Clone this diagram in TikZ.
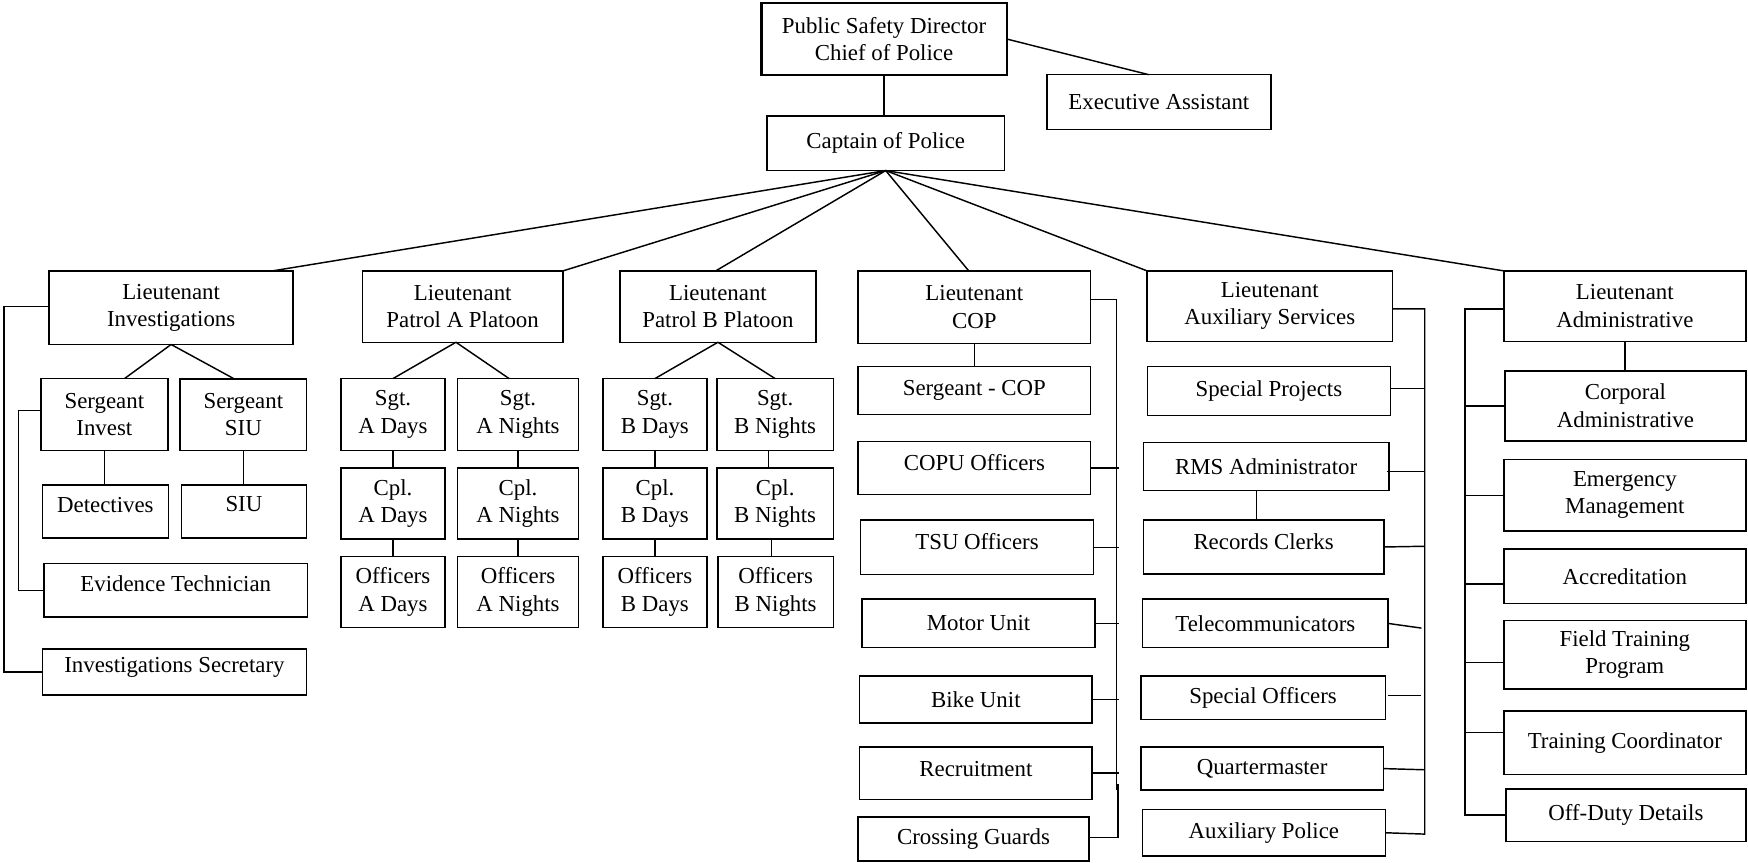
\documentclass[tikz,border=0pt]{standalone}
\usepackage{fontspec}
\setmainfont{Liberation Serif}
\usetikzlibrary{calc}
\tikzset{
  box/.style={draw, line width=1.3pt, inner sep=0pt, outer sep=0pt, align=center,
    font=\fontsize{20.5}{24.5}\selectfont},
  ln/.style={line width=1.3pt},
  raise/.style={text depth=#1}
}
\newcommand\bx[6][]{\node[box,#1,minimum width={#5-#3},minimum height={#6-#4}] (#2) at ({(#3+#5)/2},{(#4+#6)/2})}
\begin{document}
\begin{tikzpicture}[x=1pt,y=-1pt]
\useasboundingbox (0,0) rectangle (1568,774);
% top
\bx[line width=2pt]{psd}{683}{3}{903}{67}{Public Safety Director\\Chief of Police};
\bx{exec}{939}{67}{1140}{116}{Executive Assistant};
\bx{cap}{688}{104}{901}{153}{Captain of Police};
\draw[ln] (psd.south) -- (psd.south |- cap.north);
\draw[ln] (psd.east) -- ([xshift=-9pt]exec.north);
% lieutenants
\bx{inv}{44}{243}{263}{309}{Lieutenant\\Investigations};
\bx{pa}{325}{243}{505}{307}{Lieutenant\\Patrol A Platoon};
\bx{pb}{556}{243}{732}{307}{Lieutenant\\Patrol B Platoon};
\bx{cop}{769.6}{243}{978.4}{308}{Lieutenant\\COP};
\bx{aux}{1029}{243}{1249}{306.3}{Lieutenant\\Auxiliary Services};
\bx{adm}{1349}{243}{1566}{306.3}{Lieutenant\\Administrative};
\draw[ln] (cap.south) -- ($(inv.north west)!0.915!(inv.north east)$);
\draw[ln] (cap.south) -- (pa.north east);
\draw[ln] (cap.south) -- ([xshift=-2pt]pb.north);
\draw[ln] (cap.south) -- ([xshift=-5pt]cop.north);
\draw[ln] (cap.south) -- (aux.north west);
\draw[ln] (cap.south) -- (adm.north west);
% investigations
\bx{sgi}{36.6}{339.5}{150.6}{404}{Sergeant\\Invest};
\bx{ssiu}{161.6}{340}{275}{404}{Sergeant\\SIU};
\bx[raise=12pt]{det}{38}{435}{151}{482.5}{Detectives};
\bx[raise=14pt]{siu}{162.6}{435}{275}{482.5}{SIU};
\bx[raise=12pt]{evt}{39.3}{505.5}{276}{553.5}{Evidence Technician};
\bx[raise=12pt]{isec}{38}{582}{275}{623.5}{Investigations Secretary};
\draw[ln] (inv.south) -- ($(sgi.north west)!0.66!(sgi.north east)$);
\draw[ln] (inv.south) -- ($(ssiu.north west)!0.43!(ssiu.north east)$);
\draw[ln] (sgi.south) -- (sgi.south |- det.north);
\draw[ln] (ssiu.south) -- (ssiu.south |- siu.north);
\coordinate (ib0) at (3.6,275);
\draw[ln] (inv.west |- ib0) -- (ib0) |- (isec.west);
\coordinate (ib1) at (16.5,368);
\draw[ln] (sgi.west |- ib1) -- (ib1) |- (evt.west);
% patrol A
\bx{sad}{306}{339.6}{399}{404.1}{Sgt.\\A Days};
\bx{san}{410.4}{339.6}{519}{404.1}{Sgt.\\A Nights};
\bx{cad}{306}{420}{399}{483.6}{Cpl.\\A Days};
\bx{can}{410.4}{420}{519}{483.6}{Cpl.\\A Nights};
\bx{oad}{306}{499}{399}{563}{Officers\\A Days};
\bx{oan}{410.4}{499}{519}{563}{Officers\\A Nights};
\draw[ln] ([xshift=-6pt]pa.south) -- (sad.north);
\draw[ln] ([xshift=-6pt]pa.south) -- ([xshift=-8pt]san.north);
\draw[ln] (sad.south) -- (cad.north);
\draw[ln] (cad.south) -- (oad.north);
\draw[ln] (san.south) -- (can.north);
\draw[ln] (can.south) -- (oan.north);
% patrol B
\bx{sbd}{541}{339.6}{634}{404.1}{Sgt.\\B Days};
\bx{sbn}{643}{339.6}{747.6}{404.1}{Sgt.\\B Nights};
\bx{cbd}{541}{420}{634}{483.6}{Cpl.\\B Days};
\bx{cbn}{643}{420}{747.6}{483.6}{Cpl.\\B Nights};
\bx{obd}{541}{499}{634}{563}{Officers\\B Days};
\bx{obn}{644}{499}{747.6}{563}{Officers\\B Nights};
\draw[ln] (pb.south) -- (sbd.north);
\draw[ln] (pb.south) -- (sbn.north);
\draw[ln] (sbd.south) -- (cbd.north);
\draw[ln] (cbd.south) -- (obd.north);
\draw[ln] ([xshift=-6pt]sbn.south) -- ([xshift=-6pt]sbn.south |- cbn.north);
\draw[ln] ([xshift=-3.5pt]cbn.south) -- ([xshift=-3.5pt]cbn.south |- obn.north);
% COP
\bx{scop}{769.6}{328.6}{978.4}{371.6}{Sergeant - COP};
\bx[raise=9pt]{copu}{769.6}{395.9}{978.4}{443.6}{COPU Officers};
\bx[raise=11pt]{tsu}{772}{466.6}{980.8}{515.4}{TSU Officers};
\bx{motor}{773.4}{537.4}{982.1}{581}{Motor Unit};
\bx{bike}{771}{606.4}{979.7}{648.6}{Bike Unit};
\bx[raise=7pt]{recr}{771}{669.9}{979.7}{717}{Recruitment};
\bx{cross}{769.6}{733}{977}{772.5}{Crossing Guards};
\draw[ln] (cop.south) -- (cop.south |- scop.north);
\coordinate (cb0) at (1001.4,268.6);
\coordinate (cb1) at (1001.4,709);
\coordinate (cb2) at (1002.7,703);
\coordinate (cb3) at (1002.7,751);
\coordinate (cbx) at (1004,0);
\draw[ln] (cb0 -| cop.east) -- (cb0) -- (cb1);
\draw[ln] (cb2) -- (cb3) -- (cb3 -| cross.east);
\foreach \n in {copu,tsu,motor,bike,recr}{\draw[ln] (\n.east) -- (\n.east -| cbx);}
% Auxiliary
\bx{sproj}{1029.2}{328.6}{1247.2}{372.6}{Special Projects};
\bx{rms}{1025.7}{397}{1245.8}{440.2}{RMS Administrator};
\bx[raise=10pt]{rec}{1025.7}{466.6}{1241.3}{514.7}{Records Clerks};
\bx{tele}{1025}{537.4}{1245}{581}{Telecommunicators};
\bx{soff}{1023.3}{606.4}{1242.7}{645.2}{Special Officers};
\bx{qm}{1023.3}{670.2}{1241}{708.7}{Quartermaster};
\bx{apol}{1024.7}{726}{1242.7}{768}{Auxiliary Police};
\coordinate (rmsb) at (1127,440.2);
\draw[ln] (rmsb) -- (rmsb |- rec.north);
\coordinate (ab0) at (1278,277);
\coordinate (ab7) at (1278,748.2);
\draw[ln] (ab0 -| aux.east) -- (ab0) -- (ab7) -- (apol.east);
\coordinate (ab1) at (1278,348.5);
\coordinate (ab2) at (1278,422.7);
\coordinate (ab3) at (1278,490);
\coordinate (ab4) at (1278,563.4);
\coordinate (ab5) at (1278,623.9);
\coordinate (ab6) at (1278,690.5);
\draw[ln] (sproj.east |- ab1) -- (ab1);
\draw[ln] ([xshift=-2pt]rms.east |- ab2) -- (ab2);
\draw[ln] (rec.east) -- (ab3);
\draw[ln] (tele.east) -- ([xshift=-3pt]ab4);
\draw[ln] ([xshift=2pt]soff.east |- ab5) -- ([xshift=-3pt]ab5);
\draw[ln] (qm.east) -- (ab6);
% Administrative
\bx{corp}{1350}{332.6}{1566}{395.4}{Corporal\\Administrative};
\bx{emer}{1349}{412}{1566}{476.4}{Emergency\\Management};
\bx{accr}{1349}{492.6}{1566}{541.3}{Accreditation};
\bx{ftp}{1349}{556.8}{1566}{617.9}{Field Training\\Program};
\bx{tco}{1349}{637.6}{1566}{694.8}{Training Coordinator};
\bx{odd}{1351}{707.6}{1566}{754.8}{Off-Duty Details};
\draw[ln] (adm.south) -- (adm.south |- corp.north);
\coordinate (db0) at (1314,277);
\coordinate (db6) at (1314,731);
\draw[ln] (db0 -| adm.west) -- (db0) -- (db6) -- (db6 -| odd.west);
\coordinate (db1) at (1314,364.3);
\coordinate (db2) at (1314,444.3);
\coordinate (db3) at (1314,524);
\coordinate (db4) at (1314,594.4);
\coordinate (db5) at (1314,656.9);
\draw[ln] (db1) -- (db1 -| corp.west);
\draw[ln] (db2) -- (db2 -| emer.west);
\draw[ln] (db3) -- (db3 -| accr.west);
\draw[ln] (db4) -- (db4 -| ftp.west);
\draw[ln] (db5) -- (db5 -| tco.west);
\end{tikzpicture}
\end{document}
